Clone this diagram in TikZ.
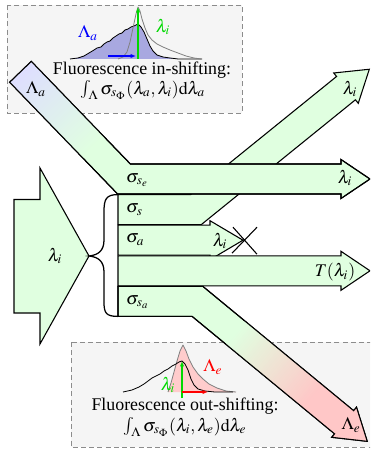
\documentclass[tikz,border=0pt]{standalone}
\usepackage{mathptmx}
\usepackage[no-math]{fontspec}
\setmainfont{Liberation Serif}
\usepackage{tikz}
\usetikzlibrary{arrows.meta, calc}

\definecolor{specblue}{RGB}{168,168,224}
\colorlet{specgreen}{green!85!black}
\colorlet{bandgreen}{green!12}
\colorlet{bandblue}{blue!13}
\colorlet{bandred}{red!22}

\begin{document}
\begin{tikzpicture}[x=0.56pt, y=-0.56pt, >={Latex[length=3pt, width=2.4pt]},
        every node/.style={inner sep=1pt},
        band/.style={draw, line width=0.6pt, fill=bandgreen, line join=miter},
        edge/.style={draw, line width=0.6pt, line join=miter},
        infobox/.style={draw=gray!90, fill=gray!8, line width=0.5pt, dash pattern=on 2.8pt off 1.8pt},
        spec/.style={line width=0.45pt, line join=round}]
    \clip (0,0) rectangle (370,452);

    % Info boxes
    \draw [infobox] (7,5) rectangle (242,113);
    \draw [infobox] (71,342) rectangle (400,447);

    % In-shifting spectra
    \fill [specblue] (70,59) -- (78,58) -- (84,56) -- (89,53) -- (94,50) -- (97,48) -- (101,47) -- (104,44) -- (107,42) -- (110,41) -- (113,38) -- (116,36) -- (119,34) -- (122,33) -- (125,30) -- (128,29) -- (131,27) -- (134,26) -- (138,24) -- (141,27) -- (144,32) -- (147,39) -- (150,46) -- (153,51) -- (157,55) -- (163,57) -- (170,58) -- (178,59) -- cycle;
    \draw [spec] (70,59) -- (78,58) -- (84,56) -- (89,53) -- (94,50) -- (97,48) -- (101,47) -- (104,44) -- (107,42) -- (110,41) -- (113,38) -- (116,36) -- (119,34) -- (122,33) -- (125,30) -- (128,29) -- (131,27) -- (134,26) -- (138,24) -- (141,27) -- (144,32) -- (147,39) -- (150,46) -- (153,51) -- (157,55) -- (163,57) -- (170,58) -- (178,59) -- (202,59);
    \draw [spec, gray] (118,59) -- (123,57) -- (127,52) -- (130,42) -- (133,28) -- (136,14) -- (138,7) -- (140,11) -- (142,19) -- (145,28) -- (148,35) -- (152,40) -- (157,44) -- (163,47) -- (170,50) -- (178,53) -- (186,56) -- (194,58) -- (201,59);
    \draw [->, blue, line width=0.6pt] (108,56) -- (136,56);
    \draw [->, specgreen, line width=0.6pt] (138,59) -- (138,7);
    \node [blue] (labs) at (88,33) {$\Lambda_a$};
    \node [specgreen] (linsh) at (163,27) {$\lambda_i$};
    \node (insh) at (142,70) {Fluorescence in-shifting:};
    \node (inshf) at (143,90) {$\int_\Lambda \sigma_{s_\Phi}(\lambda_a,\lambda_i)\mathrm{d}\lambda_a$};

    % Out-shifting spectra
    \filldraw [red!20, draw=gray, spec] (168,392) -- (171,383) -- (174,372) -- (177,361) -- (180,351) -- (183,345) -- (186,351) -- (189,359) -- (193,367) -- (198,374) -- (203,379) -- (209,384) -- (217,388) -- (226,391) -- (236,392);
    \draw [spec] (123,392) -- (132,390) -- (139,387) -- (144,384) -- (148,381) -- (152,378) -- (156,376) -- (160,374) -- (164,371) -- (168,369) -- (172,366) -- (176,364) -- (179,362) -- (182,361) -- (185,364) -- (188,370) -- (191,379) -- (194,385) -- (198,389) -- (205,391) -- (215,392) -- (233,392);
    \draw [->, specgreen, line width=0.6pt] (182,398) -- (182,361);
    \draw [->, red, line width=0.6pt] (182,392) -- (208,392);
    \node [specgreen] (loutsh) at (168,385) {$\lambda_i$};
    \node [red] (lems) at (213,367) {$\Lambda_e$};
    \node (outsh) at (185,406) {Fluorescence out-shifting:};
    \node (outshf) at (185,427) {$\int_\Lambda \sigma_{s_\Phi}(\lambda_i,\lambda_e)\mathrm{d}\lambda_e$};

    % Incident light
    \coordinate (brc) at (89,256);
    \draw [band] (14,199.5) -- (40,199.5) -- (40,168) -- (brc) -- (40,344) -- (40,313) -- (14,313) -- cycle;
    \node (lin) at (55,256) {$\lambda_i$};

    % Brace
    \draw [line width=0.7pt] (118,194.6) .. controls (106,194.6) and (104,199) .. (104,212)
        -- (104,240) .. controls (104,251) and (98,255) .. (brc)
        .. controls (98,257) and (104,261) .. (104,272)
        -- (104,302) .. controls (104,313) and (106,316.4) .. (118,316.4);

    % Scattered out (up)
    \begin{scope}[shift={(196,209.6)}, rotate=39]
        \coordinate (su1) at (193,-15);
        \coordinate (su2) at (193,-19.5);
        \coordinate (su3) at (223,0);
        \coordinate (su4) at (193,19.5);
        \coordinate (su5) at (193,15);
    \end{scope}
    \draw [band] (118,194.6) -- (190.7,194.6) -- (su1) -- (su2) -- (su3) -- (su4) -- (su5) -- (201.3,224.6) -- (118,224.6) -- cycle;
    \node (sigs) [right] at (124,210) {$\sigma_s$};
    \node (lup) at (350,89) {$\lambda_i$};

    % Absorbed
    \coordinate (satip) at (243,240.2);
    \draw [band] (118,225.2) -- (210,225.2) -- (210,220.7) -- (satip) -- (210,259.7) -- (210,255.2) -- (118,255.2) -- cycle;
    \draw [line width=0.6pt] ($(satip)+(-11,13)$) -- ($(satip)+(14,-13)$)
        ($(satip)+(-10,-13)$) -- ($(satip)+(14,14)$);
    \node (siga) [right] at (124,240) {$\sigma_a$};
    \node (labsb) at (220,241) {$\lambda_i$};

    % Transmitted
    \draw [band] (118,255.8) -- (341,255.8) -- (341,251.3) -- (370,270.8) -- (341,290.3) -- (341,285.8) -- (118,285.8) -- cycle;
    \node (trans) at (335,272) {$T(\lambda_i)$};

    % Emitted (down)
    \begin{scope}[shift={(197.5,301.4)}, rotate=-39.5]
        \coordinate (se1) at (190,-15);
        \coordinate (se2) at (190,-19.5);
        \coordinate (se3) at (220,0);
        \coordinate (se4) at (190,19.5);
        \coordinate (se5) at (190,15);
    \end{scope}
    \draw [band] (118,286.4) -- (202.9,286.4) -- (se1) -- (se2) -- (se3) -- (se4) -- (se5) -- (192.1,316.4) -- (118,316.4) -- cycle;
    \begin{scope}
        \clip (118,286.4) -- (202.9,286.4) -- (se1) -- (se2) -- (se3) -- (se4) -- (se5) -- (192.1,316.4) -- (118,316.4) -- cycle;
        \begin{scope}[shift={(197.5,301.4)}, rotate=-39.5]
            \foreach \a in {50,52,...,150} {
                \pgfmathtruncatemacro\q{\a-50}
                \fill [bandred!\q!bandgreen] (\a-1,-30) rectangle (\a+1.6,30);
            }
            \fill [bandred] (151,-30) rectangle (240,30);
        \end{scope}
    \end{scope}
    \draw [edge] (118,286.4) -- (202.9,286.4) -- (se1) -- (se2) -- (se3) -- (se4) -- (se5) -- (192.1,316.4) -- (118,316.4) -- cycle;
    \node (sigsa) [right] at (124,302) {$\sigma_{s_a}$};
    \node (lem) at (351,425) {$\Lambda_e$};

    % Absorbed light entering, scattered on
    \begin{scope}[shift={(124,179)}, rotate=-46]
        \coordinate (la1) at (-149,-15);
        \coordinate (la2) at (-149,15);
    \end{scope}
    \draw [band] (la1) -- (130.4,164) -- (341,164) -- (341,159.5) -- (370,179) -- (341,198.5) -- (341,194) -- (117.6,194) -- (la2) -- cycle;
    \begin{scope}
        \clip (la1) -- (130.4,164) -- (117.6,194) -- (la2) -- cycle;
        \begin{scope}[shift={(124,179)}, rotate=-46]
            \foreach \a in {-149,-147,...,-45} {
                \pgfmathtruncatemacro\q{100*(\a+149)/104}
                \fill [bandgreen!\q!bandblue] (\a-1,-30) rectangle (\a+1.6,30);
            }
        \end{scope}
    \end{scope}
    \draw [edge] (la1) -- (130.4,164) -- (341,164) -- (341,159.5) -- (370,179) -- (341,198.5) -- (341,194) -- (117.6,194) -- (la2) -- cycle;
    \node (sigse) [right] at (124,180) {$\sigma_{s_e}$};
    \node (lse) at (345,178) {$\lambda_i$};
    \node (la) at (36,89) {$\Lambda_a$};
\end{tikzpicture}
\end{document}
